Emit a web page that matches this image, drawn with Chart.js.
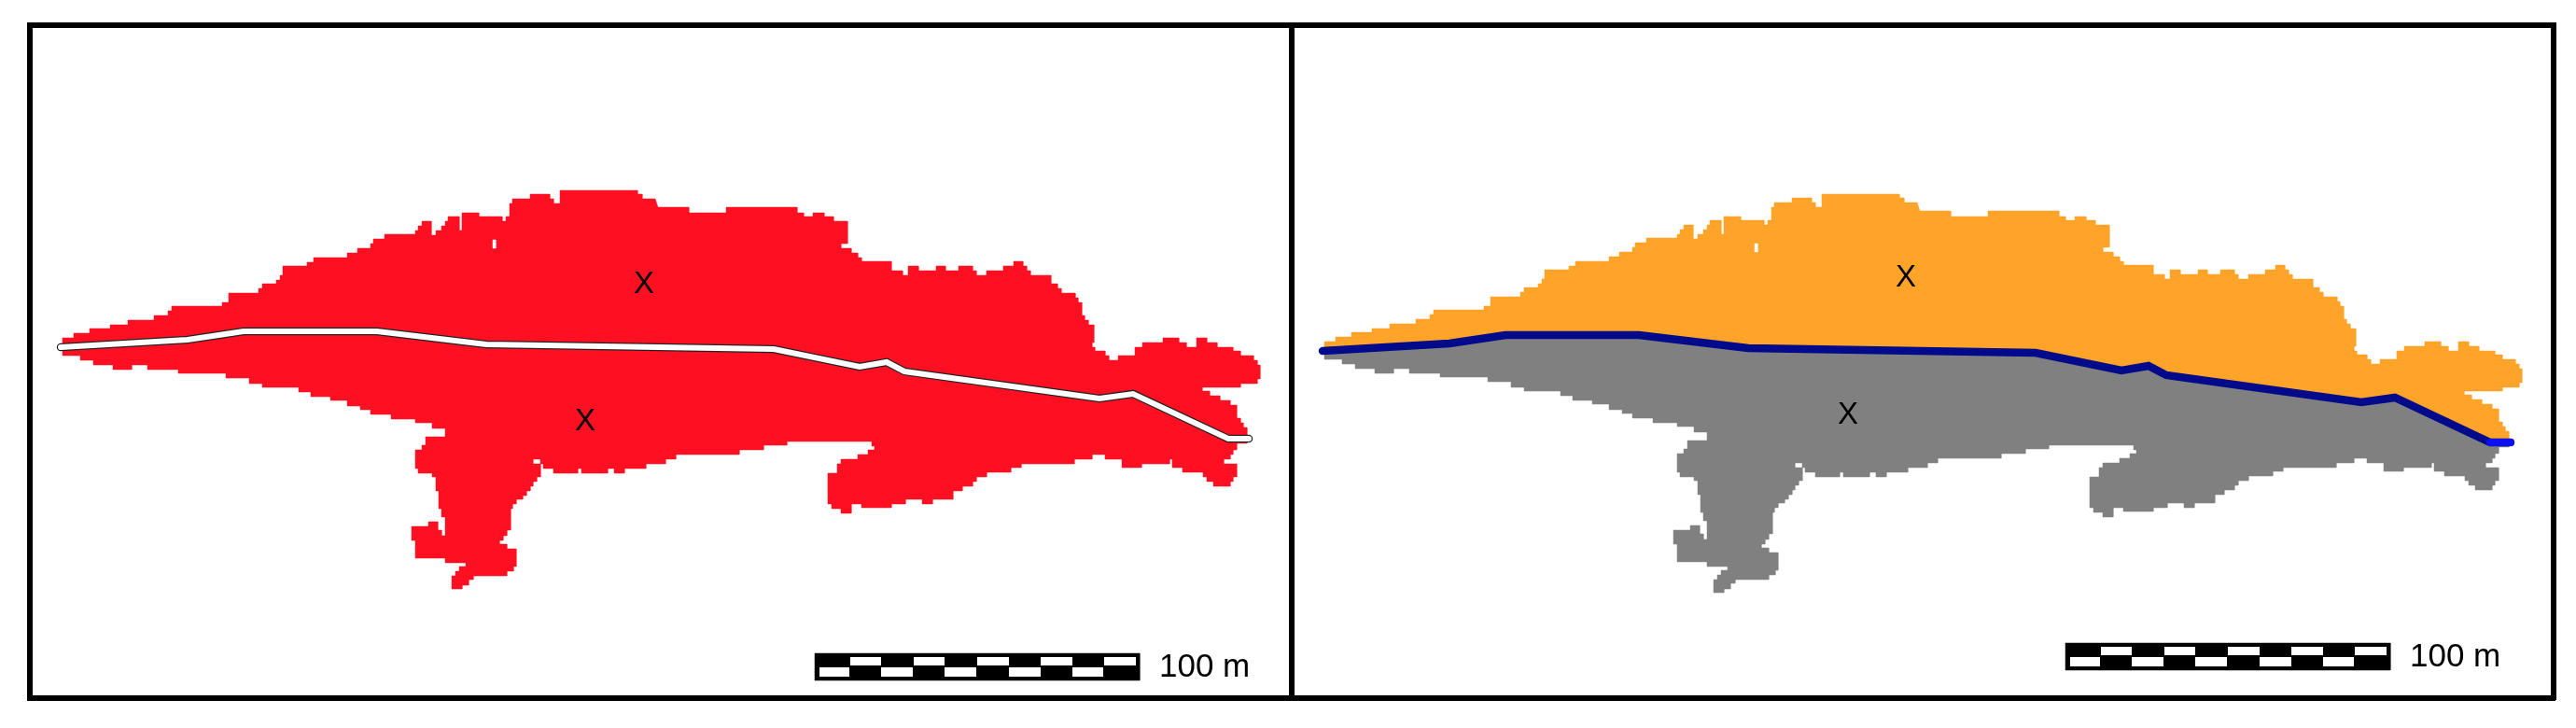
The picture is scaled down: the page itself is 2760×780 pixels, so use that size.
<!DOCTYPE html>
<html>
<head>
<meta charset="utf-8">
<script src="https://cdn.jsdelivr.net/npm/chart.js@4/dist/chart.umd.min.js"></script>
<style>
html,body{margin:0;padding:0;background:#fff;width:2760px;height:780px;overflow:hidden}
canvas{position:absolute;top:0}
.f{position:absolute;background:#000}
</style>
</head>
<body>
<canvas id="left" style="left:0"></canvas>
<canvas id="right" style="left:1384px"></canvas>
<div class="f" style="left:29px;top:24px;width:2709px;height:5.5px"></div>
<div class="f" style="left:29px;top:745px;width:2709px;height:5.5px"></div>
<div class="f" style="left:29px;top:24px;width:5.5px;height:726px"></div>
<div class="f" style="left:1381px;top:24px;width:5.5px;height:726px"></div>
<div class="f" style="left:2733px;top:24px;width:5.5px;height:726px"></div>
<script>
// Map outline above the divider, west to east (map units)
const upperOutline = [[67,372],[67,362],[79,362],[79,357],[96,357],[96,352],[118,352],[118,348],[137,348],[137,343],[165,343],[165,338],[180,338],[180,333],[184,333],[184,328],[238,328],[238,324],[245,324],[245,314],[277,314],[277,309],[281,309],[281,304],[296,304],[296,300],[300,300],[300,295],[303,295],[303,285],[329,285],[329,281],[336,281],[336,276],[372,276],[372,271],[383,271],[383,266],[397,266],[397,261],[400,261],[400,256],[412,256],[412,251],[445,251],[445,247],[448,247],[448,242],[452,242],[452,237],[462,237],[462,252],[467,252],[467,247],[473,247],[473,242],[477,242],[477,237],[480,237],[480,232],[492,232],[492,247],[495,247],[495,228],[513,228],[513,232],[538,232],[538,237],[542,237],[542,232],[546,232],[546,218],[549,218],[549,213],[568,213],[568,208],[589,208],[589,213],[593,213],[593,218],[600,218],[600,204],[683,204],[683,208],[688,208],[688,213],[702,213],[705,222],[738,222],[738,228],[778,228],[778,222],[854,222],[854,228],[861,228],[861,232],[871,232],[871,228],[883,228],[883,232],[893,232],[893,237],[908,237],[908,261],[901,261],[901,266],[912,266],[912,271],[919,271],[919,276],[923,276],[923,280],[955,280],[955,290],[967,290],[967,295],[973,295],[973,285],[984,285],[984,290],[1003,290],[1003,285],[1013,285],[1013,290],[1027,290],[1027,285],[1042,285],[1042,290],[1046,290],[1046,295],[1057,295],[1057,290],[1075,290],[1075,285],[1086,285],[1086,280],[1096,280],[1096,285],[1100,285],[1100,290],[1104,290],[1104,295],[1126,295],[1126,304],[1133,304],[1133,309],[1137,309],[1137,314],[1152,314],[1152,319],[1155,319],[1155,324],[1159,324],[1159,338],[1162,338],[1162,343],[1166,343],[1166,348],[1172,348],[1172,367],[1170,367],[1170,372],[1173,372],[1173,376],[1184,376],[1184,381],[1188,381],[1188,386],[1198,386],[1198,381],[1216,381],[1216,372],[1224,372],[1224,367],[1246,367],[1246,362],[1263,362],[1263,367],[1271,367],[1271,372],[1282,372],[1282,362],[1293,362],[1293,367],[1304,367],[1304,372],[1321,372],[1321,376],[1329,376],[1329,381],[1343,381],[1343,386],[1347,386],[1347,391],[1350,391],[1350,406],[1347,406],[1347,411],[1329,411],[1329,415],[1288,415],[1288,419],[1296,419],[1296,424],[1307,424],[1307,429],[1318,429],[1318,434],[1325,434],[1325,448],[1329,448],[1329,453],[1332,453],[1332,458],[1336,458],[1336,470]];
// Map outline below the divider, east to west (map units)
const lowerOutline = [[1336,470],[1336,475],[1325,475],[1325,482],[1321,482],[1321,487],[1318,487],[1318,492],[1311,492],[1311,497],[1325,497],[1325,511],[1321,511],[1321,516],[1318,516],[1318,521],[1300,521],[1300,516],[1293,516],[1293,511],[1289,511],[1289,506],[1267,506],[1267,501],[1256,501],[1256,492],[1253,492],[1253,497],[1223,497],[1223,501],[1202,501],[1202,492],[1184,492],[1184,487],[1170,487],[1170,492],[1151,492],[1151,497],[1094,497],[1094,501],[1083,501],[1083,506],[1057,506],[1057,511],[1046,511],[1046,516],[1042,516],[1042,521],[1031,521],[1031,526],[1021,526],[1021,535],[999,535],[999,540],[988,540],[988,535],[970,535],[970,540],[955,540],[955,544],[923,544],[923,540],[912,540],[912,550],[901,550],[901,545],[891,545],[891,540],[887,540],[887,507],[897,507],[897,497],[901,497],[901,492],[919,492],[919,487],[930,487],[930,482],[937,482],[937,478],[934,478],[934,473],[843,473],[843,477],[818,477],[818,482],[792,482],[792,487],[724,487],[724,492],[713,492],[713,497],[692,497],[692,502],[669,502],[669,507],[658,507],[658,502],[651,502],[651,507],[623,507],[623,502],[619,502],[619,507],[593,507],[593,502],[582,502],[582,497],[579,497],[579,492],[571,492],[571,497],[579,497],[579,511],[575,511],[575,516],[571,516],[571,521],[568,521],[568,526],[564,526],[564,531],[560,531],[560,535],[553,535],[553,540],[549,540],[549,545],[547,545],[547,568],[543,568],[543,574],[539,574],[539,579],[535,579],[535,583],[543,583],[543,588],[553,588],[553,607],[550,607],[550,612],[543,612],[543,617],[507,617],[507,621],[502,621],[502,627],[495,627],[495,631],[484,631],[484,617],[488,617],[488,612],[492,612],[492,607],[499,607],[499,603],[477,603],[477,598],[445,598],[445,579],[441,579],[441,564],[459,564],[459,559],[469,559],[469,568],[473,568],[473,574],[477,574],[477,554],[473,554],[473,545],[470,545],[470,526],[467,526],[467,511],[463,511],[463,507],[448,507],[448,502],[445,502],[445,482],[452,482],[452,477],[456,477],[456,468],[477,468],[477,459],[463,459],[463,453],[445,453],[445,449],[419,449],[419,444],[397,444],[397,439],[386,439],[386,435],[372,435],[372,429],[354,429],[354,425],[333,425],[333,420],[320,420],[320,415],[281,415],[281,411],[267,411],[267,405],[242,405],[242,400],[191,400],[191,396],[158,396],[158,391],[141,391],[141,396],[121,396],[121,391],[100,391],[100,386],[86,386],[86,381],[67,381],[67,372]];
// Small unmapped gap inside the upper half
const innerGap = [[528,257],[531,257],[531,266],[528,266],[528,257]];
// Divider line between the two halves
const dividerLine = [[65,372],[201,364],[261,355],[404,355],[521,369],[829,374],[921,393],[950,388],[969,398],[1178,427],[1214,422],[1316,470],[1338,470]];
// "X" marks
const leftMarks = [[690,305],[627,452]];
const rightMarks = [[690,294],[628,441]];
// Scale bar: along-bar positions, 100 m
const barLength = 348;
const barHeight = 29;
const topWhites = [[38,71],[106,139],[174,208],[242,276],[310,344]];
const bottomWhites = [[5,37],[71,105],[139,173],[208,242],[276,309]];
const barLabel = "100 m";
const markLabel = "X";
// Colours
const red = "#fe1022", orange = "#ffa329", grey = "#808080", navy = "#000a8b", bright = "#0a10ee";

const pts = a => a.map(p => ({x:p[0], y:p[1]}));
const poly = (a, c, order) => ({data:pts(a), backgroundColor:c, borderColor:c, borderWidth:0.5, fill:'shape', pointRadius:0, order});
const stroke = (a, c, w, order, cap) => ({data:pts(a), borderColor:c, borderWidth:w, fill:false, pointRadius:0, order, borderCapStyle:cap||'round', borderJoinStyle:'miter', tension:0});

function segs(list, x0, y) {
  const out = [];
  list.forEach(s => { out.push([x0+s[0], y], [x0+s[1], y], [NaN, NaN]); });
  return out;
}
function barSets(x0, y0) {
  const frame = [[x0,y0],[x0+barLength,y0],[x0+barLength,y0+barHeight],[x0,y0+barHeight],[x0,y0]];
  return [
    poly(frame, "#000", 6),
    stroke(segs(topWhites, x0, y0+8.5), "#fff", 9, 5, 'butt'),
    stroke(segs(bottomWhites, x0, y0+20), "#fff", 10, 5, 'butt')
  ];
}
function makeChart(id, w, xMin, yMin, sets, marks, barX, barY) {
  const el = document.getElementById(id);
  el.width = w; el.height = 780;
  el.style.width = w + 'px'; el.style.height = '780px';
  new Chart(el, {
    type: 'scatter',
    data: {datasets: sets},
    options: {
      responsive:false, animation:false, devicePixelRatio:1,
      layout:{padding:0},
      plugins:{legend:{display:false}, tooltip:{enabled:false}},
      elements:{line:{spanGaps:false}},
      datasets:{scatter:{showLine:true, clip:false, spanGaps:false}},
      scales:{
        x:{type:'linear', display:false, min:xMin, max:xMin+w},
        y:{type:'linear', display:false, reverse:true, min:yMin, max:yMin+780}
      }
    },
    plugins:[{
      id:'labels',
      afterDatasetsDraw(c){
        const g = c.ctx, X = c.scales.x, Y = c.scales.y;
        g.save();
        g.fillStyle = '#000';
        g.textAlign = 'center'; g.textBaseline = 'middle';
        g.font = '33px "Liberation Sans"';
        marks.forEach(m => g.fillText(markLabel, X.getPixelForValue(m[0]), Y.getPixelForValue(m[1])));
        g.textAlign = 'left';
        g.font = '35px "Liberation Sans"';
        g.fillText(barLabel, X.getPixelForValue(barX+369), Y.getPixelForValue(barY+15));
        g.restore();
      }
    }]
  });
}
makeChart('left', 1384, 0, 0, [
  stroke(dividerLine, "#fff", 6, 1),
  stroke(dividerLine, "#222", 8.5, 2),
  poly(innerGap, "#fff", 2.5),
  poly(upperOutline.concat(lowerOutline), red, 3),
  ...barSets(873, 700)
], leftMarks, 873, 700);
makeChart('right', 1376, 32, -4, [
  stroke(dividerLine.slice(-2), bright, 8, 0.5),
  stroke(dividerLine, navy, 8.5, 1),
  poly(innerGap, "#fff", 2.5),
  poly(upperOutline.concat(dividerLine.slice().reverse()), orange, 3),
  poly(lowerOutline.concat(dividerLine), grey, 4),
  ...barSets(861, 685)
], rightMarks, 861, 685);
</script>
</body>
</html>
